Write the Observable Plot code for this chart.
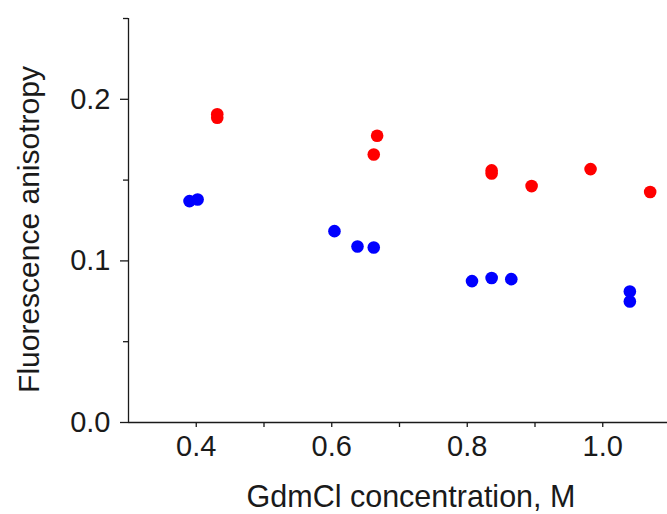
<!DOCTYPE html>
<html>
<head>
<meta charset="utf-8">
<script src="https://cdn.jsdelivr.net/npm/d3@7"></script>
<script src="https://cdn.jsdelivr.net/npm/@observablehq/plot@0.6"></script>
<style>
  html, body { margin: 0; padding: 0; background: #fff; }
  #chart svg { display: block; }
</style>
</head>
<body>
<div id="chart"></div>
<script>
// Series A (red)
const redX = [0.431, 0.431, 0.662, 0.667, 0.836, 0.836, 0.895, 0.982, 1.070];
const redY = [0.1907, 0.1886, 0.1658, 0.1774, 0.1560, 0.1541, 0.1463, 0.1568, 0.1426];
// Series B (blue)
const blueX = [0.390, 0.402, 0.604, 0.638, 0.662, 0.807, 0.836, 0.865, 1.040, 1.040];
const blueY = [0.1370, 0.1380, 0.1184, 0.1089, 0.1083, 0.0875, 0.0894, 0.0887, 0.0811, 0.0749];

const xMajorTicks = [0.4, 0.6, 0.8, 1.0];
const xMinorTicks = [0.5, 0.7, 0.9];
const yMajorTicks = [0.0, 0.1, 0.2];
const yMinorTicks = [0.05, 0.15, 0.25];
const xDomain = [0.3, 1.1];
const yDomain = [0, 0.25];
const xTitle = "GdmCl concentration, M";
const yTitle = "Fluorescence anisotropy";

const red = redX.map((x, i) => ({x, y: redY[i]}));
const blue = blueX.map((x, i) => ({x, y: blueY[i]}));

const axisColor = "#1a1a1a";
const font = "'Liberation Sans', Arial, sans-serif";

const chart = Plot.plot({
  width: 667,
  height: 514,
  marginLeft: 128,
  marginRight: 0,
  marginTop: 18,
  marginBottom: 92,
  style: {fontFamily: font, background: "#fff", overflow: "hidden"},
  x: {domain: xDomain, range: [128, 670]},
  y: {domain: yDomain, range: [422, 18]},
  marks: [
    Plot.axisX({ticks: xMajorTicks, tickFormat: d3.format(".1f"), tickSize: 5, tickPadding: 8,
      fontSize: 29, stroke: axisColor, fill: axisColor, strokeWidth: 1.3, label: null}),
    Plot.axisX({ticks: xMinorTicks, tickFormat: () => "", tickSize: 5,
      stroke: axisColor, strokeWidth: 1.3, label: null}),
    Plot.axisY({ticks: yMajorTicks, tickFormat: d3.format(".1f"), tickSize: 8, tickPadding: 10,
      fontSize: 29, stroke: axisColor, fill: axisColor, strokeWidth: 1.3, label: null}),
    Plot.axisY({ticks: yMinorTicks, tickFormat: () => "", tickSize: 5,
      stroke: axisColor, strokeWidth: 1.3, label: null}),
    Plot.ruleY([0], {x1: xDomain[0], x2: xDomain[1], stroke: axisColor, strokeWidth: 1.3}),
    Plot.ruleX([xDomain[0]], {y1: yDomain[0], y2: yDomain[1], stroke: axisColor, strokeWidth: 1.3}),
    Plot.dot(blue, {x: "x", y: "y", r: 6.3, fill: "#0000ff", stroke: null}),
    Plot.dot(red, {x: "x", y: "y", r: 6.3, fill: "#ff0000", stroke: null}),
    Plot.text([xTitle], {frameAnchor: "bottom", textAnchor: "middle", lineAnchor: "bottom", dx: 13, dy: 84,
      fontSize: 30.5, fill: axisColor}),
    Plot.text([yTitle], {frameAnchor: "left", textAnchor: "middle", lineAnchor: "bottom", rotate: -90, dx: -90, dy: 9,
      fontSize: 30, fill: axisColor})
  ]
});
document.getElementById("chart").appendChild(chart);
</script>
</body>
</html>
